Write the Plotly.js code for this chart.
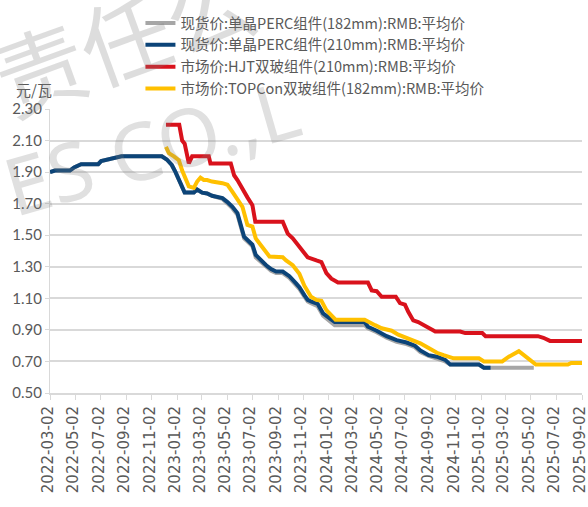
<!DOCTYPE html>
<html>
<head>
<meta charset="utf-8">
<script src="https://cdn.plot.ly/plotly-3.0.1.min.js"></script>
<style>
html,body{margin:0;padding:0;background:#fff;}
#chart{width:588px;height:507px;}
</style>
</head>
<body>
<div id="chart"></div>
<script>
// ---- Data ----
const seriesNames = [
  "现货价:单晶PERC组件(182mm):RMB:平均价",
  "现货价:单晶PERC组件(210mm):RMB:平均价",
  "市场价:HJT双玻组件(210mm):RMB:平均价",
  "市场价:TOPCon双玻组件(182mm):RMB:平均价"
];

const perc210Dates = ["2022-03-02","2022-03-14","2022-04-19","2022-04-29","2022-05-16","2022-06-26","2022-07-03","2022-07-20","2022-08-01","2022-08-21","2022-11-11","2022-11-26","2022-12-08","2022-12-20","2022-12-29","2023-01-06","2023-01-14","2023-01-20","2023-02-11","2023-02-19","2023-03-03","2023-03-15","2023-03-27","2023-04-08","2023-04-21","2023-05-03","2023-05-15","2023-05-27","2023-06-04","2023-06-12","2023-06-24","2023-07-02","2023-07-10","2023-07-22","2023-08-04","2023-08-16","2023-08-28","2023-09-13","2023-09-29","2023-10-15","2023-10-23","2023-11-04","2023-11-12","2023-11-20","2023-12-06","2023-12-19","2024-01-04","2024-01-16","2024-03-28","2024-04-05","2024-04-26","2024-05-20","2024-06-13","2024-07-07","2024-07-27","2024-08-09","2024-08-29","2024-09-18","2024-10-08","2024-10-20","2024-12-28","2025-01-09","2025-01-25"];
const perc210Values = [1.90,1.91,1.91,1.93,1.95,1.95,1.97,1.98,1.99,2.00,2.00,2.00,1.98,1.945,1.90,1.85,1.80,1.77,1.77,1.79,1.77,1.765,1.75,1.74,1.735,1.71,1.68,1.64,1.575,1.49,1.46,1.44,1.375,1.34,1.31,1.285,1.27,1.27,1.24,1.195,1.17,1.12,1.09,1.08,1.065,1.005,0.97,0.95,0.95,0.92,0.895,0.86,0.835,0.82,0.80,0.77,0.74,0.73,0.71,0.68,0.68,0.66,0.66];

const perc182Dates = ["2022-03-02","2022-03-14","2022-04-19","2022-04-29","2022-05-16","2022-06-26","2022-07-03","2022-07-20","2022-08-01","2022-08-21","2022-11-11","2022-11-26","2022-12-08","2022-12-20","2022-12-29","2023-01-06","2023-01-14","2023-01-20","2023-02-11","2023-02-19","2023-03-03","2023-03-15","2023-03-27","2023-04-08","2023-04-21","2023-05-03","2023-05-15","2023-05-27","2023-06-04","2023-06-12","2023-06-24","2023-07-02","2023-07-10","2023-07-22","2023-08-04","2023-08-16","2023-08-28","2023-09-13","2023-09-29","2023-10-15","2023-10-23","2023-11-04","2023-11-12","2023-11-20","2023-12-06","2023-12-19","2024-01-04","2024-01-16","2024-03-28","2024-04-05","2024-04-26","2024-05-20","2024-06-13","2024-07-07","2024-07-27","2024-08-09","2024-08-29","2024-09-18","2024-10-08","2024-10-20","2024-12-28","2025-01-09","2025-05-09"];
const perc182Values = [1.90,1.91,1.91,1.93,1.95,1.95,1.97,1.98,1.99,2.00,2.00,2.00,1.98,1.945,1.90,1.85,1.80,1.77,1.77,1.79,1.77,1.765,1.75,1.74,1.73,1.70,1.67,1.63,1.56,1.48,1.45,1.43,1.36,1.33,1.30,1.275,1.26,1.26,1.23,1.185,1.16,1.11,1.08,1.07,1.05,0.99,0.955,0.93,0.93,0.91,0.885,0.85,0.825,0.81,0.79,0.76,0.735,0.72,0.70,0.68,0.68,0.66,0.66];

const hjtDates = ["2022-12-06","2023-01-07","2023-01-14","2023-01-20","2023-01-30","2023-02-07","2023-03-19","2023-03-23","2023-05-11","2023-05-19","2023-05-27","2023-06-08","2023-06-20","2023-07-02","2023-07-09","2023-09-13","2023-09-25","2023-10-07","2023-10-19","2023-10-31","2023-11-12","2023-12-03","2023-12-15","2023-12-27","2024-01-08","2024-01-24","2024-04-05","2024-04-14","2024-04-26","2024-05-08","2024-06-11","2024-06-21","2024-07-03","2024-07-11","2024-07-23","2024-08-04","2024-08-17","2024-08-29","2024-09-14","2024-11-13","2024-11-25","2025-01-05","2025-01-13","2025-05-19","2025-06-01","2025-06-17","2025-09-02"];
const hjtValues = [2.20,2.20,2.10,2.08,1.955,2.00,2.00,1.955,1.955,1.88,1.85,1.79,1.74,1.69,1.585,1.585,1.51,1.48,1.44,1.39,1.36,1.34,1.33,1.26,1.225,1.20,1.20,1.15,1.145,1.11,1.11,1.07,1.06,1.015,0.96,0.95,0.93,0.91,0.89,0.89,0.88,0.88,0.86,0.86,0.85,0.83,0.83];

const topconDates = ["2022-12-06","2022-12-13","2022-12-25","2023-01-06","2023-01-14","2023-01-22","2023-01-30","2023-02-11","2023-02-19","2023-02-27","2023-03-07","2023-03-15","2023-03-27","2023-04-21","2023-05-03","2023-05-15","2023-05-27","2023-06-08","2023-06-20","2023-07-02","2023-07-10","2023-07-18","2023-07-30","2023-08-12","2023-09-13","2023-09-21","2023-10-07","2023-10-23","2023-11-04","2023-11-20","2023-12-03","2023-12-15","2023-12-27","2024-01-12","2024-01-18","2024-03-28","2024-04-10","2024-04-22","2024-05-08","2024-06-01","2024-06-17","2024-07-03","2024-07-23","2024-08-09","2024-08-29","2024-09-18","2024-10-04","2024-10-20","2024-10-28","2024-12-28","2025-01-09","2025-02-22","2025-03-10","2025-04-03","2025-04-20","2025-05-06","2025-05-14","2025-07-30","2025-08-07","2025-09-02"];
const topconValues = [2.06,2.02,2.00,1.975,1.91,1.86,1.81,1.80,1.84,1.865,1.85,1.85,1.84,1.83,1.82,1.775,1.73,1.68,1.565,1.555,1.48,1.45,1.405,1.365,1.36,1.34,1.31,1.255,1.18,1.11,1.09,1.085,1.025,0.98,0.965,0.965,0.95,0.93,0.91,0.895,0.87,0.855,0.835,0.815,0.785,0.755,0.74,0.725,0.72,0.72,0.70,0.70,0.73,0.765,0.73,0.695,0.68,0.68,0.69,0.69];

const xTickDates = ["2022-03-02","2022-05-02","2022-07-02","2022-09-02","2022-11-02","2023-01-02","2023-03-02","2023-05-02","2023-07-02","2023-09-02","2023-11-02","2024-01-02","2024-03-02","2024-05-02","2024-07-02","2024-09-02","2024-11-02","2025-01-02","2025-03-02","2025-05-02","2025-07-02","2025-09-02"];
const yTickValues = [0.50,0.70,0.90,1.10,1.30,1.50,1.70,1.90,2.10,2.30];
const yTickLabels = ["0.50","0.70","0.90","1.10","1.30","1.50","1.70","1.90","2.10","2.30"];

const colors = ["#a6a6a6","#0c4478","#d9121c","#ffc000"];

function mk(i, xs, ys){
  return {type:"scatter", mode:"lines", name:seriesNames[i], x:xs, y:ys,
    line:{color:colors[i], width:4}, legendgroup:"g"+i, hoverinfo:"x+y"};
}

const traces = [
  mk(0, perc182Dates, perc182Values),
  mk(1, perc210Dates, perc210Values),
  mk(2, hjtDates, hjtValues),
  mk(3, topconDates, topconValues)
];

const axisFont = {family:"Lato, 'DejaVu Sans', sans-serif", size:15, color:"#595959"};

const layout = {
  width:588, height:507,
  margin:{l:50, r:6, t:109, b:114, pad:0},
  paper_bgcolor:"#ffffff", plot_bgcolor:"#ffffff",
  showlegend:true,
  legend:{
    x:0.17, xanchor:"left", y:1.014, yanchor:"bottom",
    yref:"paper",
    orientation:"v", traceorder:"normal",
    tracegroupgap:5.5,
    font:{family:"'Noto Sans CJK SC', sans-serif", size:14.5, color:"#595959"},
    bgcolor:"rgba(255,255,255,0)", itemwidth:30
  },
  xaxis:{
    type:"date",
    range:["2022-03-02","2025-09-02"],
    tickvals:xTickDates,
    ticktext:xTickDates,
    tickangle:-90,
    ticklabeloverflow:"allow",
    ticklabelshift:-2,
    tickfont:{family:"'DejaVu Sans', sans-serif", size:15, color:"#595959"},
    showgrid:false,
    showline:true, linecolor:"#d9d9d9", linewidth:2,
    ticks:"outside", ticklen:5, tickcolor:"#d9d9d9", tickwidth:1,
    zeroline:false, fixedrange:true
  },
  yaxis:{
    range:[0.5,2.3],
    tickvals:yTickValues,
    ticktext:yTickLabels,
    tickfont:axisFont,
    showgrid:true, gridcolor:"#d9d9d9", gridwidth:2,
    showline:true, linecolor:"#d9d9d9", linewidth:1,
    ticks:"outside", ticklen:4, tickcolor:"#d9d9d9",
    zeroline:false, fixedrange:true
  },
  annotations:[
    {xref:"paper", yref:"paper", x:-0.030, y:1.070, xanchor:"center", yanchor:"middle",
     text:"元/瓦", showarrow:false, font:{family:"'Noto Sans CJK SC', sans-serif", size:15, color:"#595959"}},
    {xref:"paper", yref:"paper", x:0.14, y:1.26, xanchor:"center", yanchor:"middle",
     text:"责任公", showarrow:false, textangle:-20, opacity:0.26,
     font:{family:"'Noto Sans CJK SC', sans-serif", size:90, color:"#7f7f7f"}},
    {xref:"paper", yref:"paper", x:0.19, y:0.87, xanchor:"center", yanchor:"middle",
     text:"ES CO.,L", showarrow:false, textangle:-16, opacity:0.24,
     font:{family:"'Noto Sans', sans-serif", size:80, color:"#7f7f7f"}}
  ]
};

Plotly.newPlot("chart", traces, layout, {displayModeBar:false, staticPlot:true});
</script>
</body>
</html>
